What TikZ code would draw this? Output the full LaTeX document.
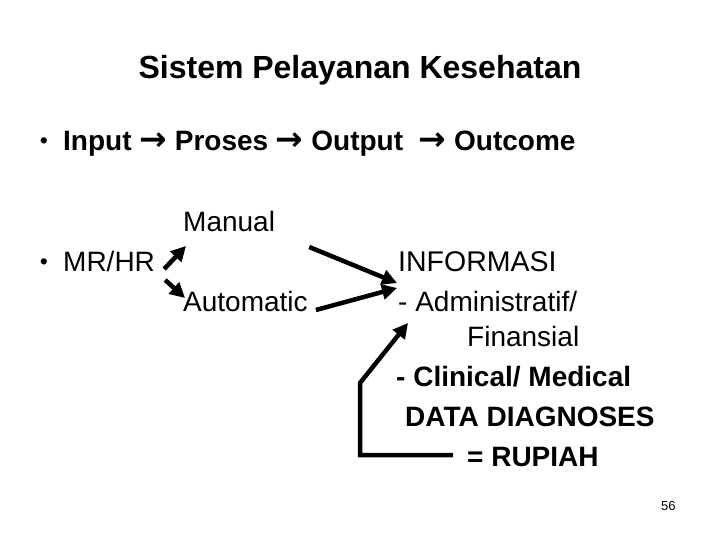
\documentclass[tikz,border=0pt]{standalone}
\usepackage{fontspec}
\setmainfont{Liberation Sans}
\newfontfamily\arrowfont{DejaVu Sans}
\usetikzlibrary{arrows.meta}

\newcommand{\chainarrow}{{\arrowfont\bfseries\fontsize{33}{34}\selectfont →}}

\tikzset{
  txt/.style={inner sep=0pt, anchor=base west, font=\fontsize{28}{34}\selectfont},
  btxt/.style={txt, font=\fontsize{28}{34}\selectfont\bfseries},
  bullet/.style={inner sep=0pt, anchor=base, font=\fontsize{23}{26}\selectfont},
  arr/.style={line width=4.5pt, -{Triangle[length=15pt,width=15pt]}},
}

\begin{document}
\begin{tikzpicture}[x=1pt,y=-1pt]
    \fill[white] (0,0) rectangle (720,540);
    \useasboundingbox (0,0) rectangle (720,540);
    % heading and bullet line
    \node[btxt, anchor=base, font=\fontsize{32}{38}\selectfont\bfseries] (title) at (360,79) {Sistem Pelayanan Kesehatan};
    \node[bullet] (bul1) at (44,149) {•};
    \node[btxt] (chain) at (63,151) {Input \chainarrow{} Proses \chainarrow{} Output\ \ \chainarrow{} Outcome};

    % left column
    \node[bullet] (bul2) at (44,269) {•};
    \node[txt] (mrhr) at (63,271) {MR/HR};
    \node[txt] (manual) at (183,231) {Manual};
    \node[txt] (automatic) at (183,311) {Automatic};

    % right column
    \node[txt, font=\fontsize{28.5}{34}\selectfont] (informasi) at (398,271) {INFORMASI};
    \node[txt] (admin) at (398,311) {- Administratif/};
    \node[txt] (finansial) at (467,346) {Finansial};
    \node[btxt] (clinical) at (396,386) {- Clinical/ Medical};
    \node[btxt] (diagnoses) at (405,426) {DATA DIAGNOSES};
    \node[btxt] (rupiah) at (467,466) {= RUPIAH};
    \node[txt, font=\fontsize{13}{15}\selectfont] (page) at (661,510) {56};

    % arrows
    \draw[arr] ([xshift=9pt,yshift=2pt]mrhr.base east) -- ([xshift=3pt,yshift=-15pt]manual.base west);
    \draw[arr] ([xshift=10pt,yshift=-9pt]mrhr.base east) -- ([xshift=2pt,yshift=13pt]automatic.base west);
    \draw[arr] ([xshift=34pt,yshift=-16pt]manual.base east) -- ([xshift=-1pt,yshift=-12pt]informasi.base west);
    \draw[arr] ([xshift=8pt,yshift=1pt]automatic.base east) -- ([xshift=-1pt,yshift=23pt]admin.base west);
    \coordinate (bend) at (360,383);
    \draw[arr] ([xshift=-14pt,yshift=11pt]rupiah.base west) -| (bend) -- ([xshift=10pt,yshift=-12pt]admin.base west);
\end{tikzpicture}
\end{document}
